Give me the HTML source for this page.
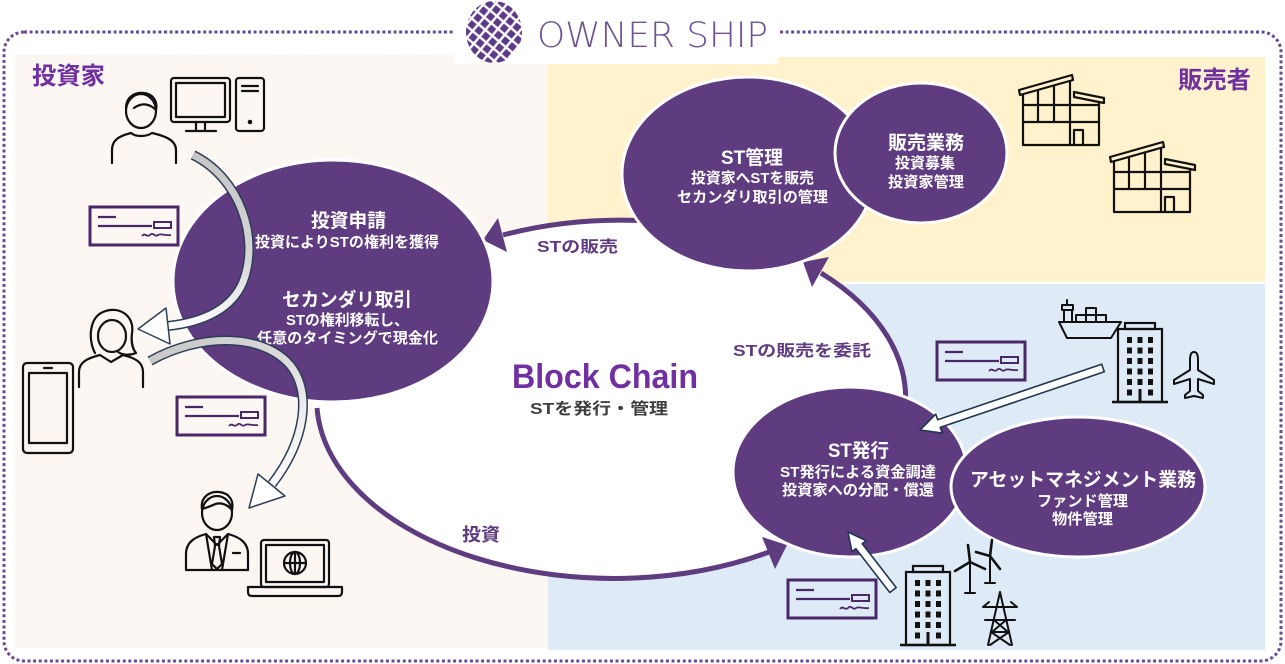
<!DOCTYPE html>
<html><head><meta charset="utf-8">
<style>
html,body{margin:0;padding:0;background:#fff;}
svg{display:block;}
text{font-family:"Liberation Sans","Noto Sans CJK JP",sans-serif;}
</style></head><body>
<svg width="1285" height="664" viewBox="0 0 1285 664" xmlns="http://www.w3.org/2000/svg">
<defs>
  <linearGradient id="ga1" x1="0" y1="155" x2="0" y2="330" gradientUnits="userSpaceOnUse">
    <stop offset="0" stop-color="#c6c6c6"/><stop offset="0.6" stop-color="#d6d6d6"/><stop offset="1" stop-color="#ffffff"/>
  </linearGradient>
  <linearGradient id="ga2" x1="150" y1="340" x2="290" y2="490" gradientUnits="userSpaceOnUse">
    <stop offset="0" stop-color="#c6c6c6"/><stop offset="0.5" stop-color="#dadada"/><stop offset="1" stop-color="#ffffff"/>
  </linearGradient>
  <clipPath id="gc"><ellipse cx="494" cy="32" rx="28" ry="31"/></clipPath>
  <pattern id="gp" width="9" height="9" patternUnits="userSpaceOnUse" patternTransform="rotate(40 494 32)">
    <rect width="9" height="9" fill="#ffffff"/><rect x="1.2" y="1.2" width="6.6" height="6.6" fill="#5b3a88"/>
  </pattern>
  <g id="chk" fill="none" stroke="#4a2868">
    <rect x="0" y="0" width="88" height="38" stroke-width="3"/>
    <line x1="8" y1="10" x2="26" y2="10" stroke-width="2.2"/>
    <line x1="8" y1="19" x2="62" y2="19" stroke-width="2.2"/>
    <rect x="64" y="15" width="17" height="6" stroke-width="2"/>
    <path d="M52,29 C55,25 57,31 60,28 C63,24 65,31 68,28 C71,26 74,29 81,28" stroke-width="1.8"/>
  </g>
  <g id="fac" fill="none" stroke="#111" stroke-width="2.2" stroke-linejoin="round">
    <path d="M0,15 L53,0 L54,5 L1,20 Z"/>
    <path d="M55,17 L85,23 L85,28 L55,22 Z"/>
    <path d="M4,19 V70 H80 V27"/>
    <line x1="19" y1="15" x2="19" y2="47"/>
    <line x1="35" y1="11" x2="35" y2="47"/>
    <line x1="51" y1="6" x2="51" y2="70"/>
    <line x1="4" y1="30" x2="80" y2="30"/>
    <line x1="4" y1="47" x2="80" y2="47"/>
    <path d="M55,70 V55 H64 V70"/>
  </g>
  <g id="twr">
    <rect x="13" y="0" width="30" height="6" fill="none" stroke="#111" stroke-width="2.2"/>
    <rect x="6" y="6" width="44" height="73" fill="none" stroke="#111" stroke-width="2.2"/>
    <line x1="0" y1="79" x2="56" y2="79" stroke="#111" stroke-width="2.5"/>
    <g fill="#111">
      <rect x="15" y="14" width="5" height="6"/><rect x="25.5" y="14" width="5" height="6"/><rect x="36" y="14" width="5" height="6"/>
      <rect x="15" y="24.5" width="5" height="6"/><rect x="25.5" y="24.5" width="5" height="6"/><rect x="36" y="24.5" width="5" height="6"/>
      <rect x="15" y="35" width="5" height="6"/><rect x="25.5" y="35" width="5" height="6"/><rect x="36" y="35" width="5" height="6"/>
      <rect x="15" y="45.5" width="5" height="6"/><rect x="25.5" y="45.5" width="5" height="6"/><rect x="36" y="45.5" width="5" height="6"/>
      <rect x="15" y="56" width="5" height="6"/><rect x="25.5" y="56" width="5" height="6"/><rect x="36" y="56" width="5" height="6"/>
      <rect x="15" y="66.5" width="5" height="6"/><rect x="26.5" y="66" width="3" height="13"/><rect x="36" y="66.5" width="5" height="6"/>
    </g>
  </g>
</defs>

<!-- backgrounds -->
<rect width="1285" height="664" fill="#ffffff"/>
<rect x="15" y="55" width="534" height="593" fill="#fcf7f3"/>
<rect x="548" y="57" width="717" height="225" fill="#fff2cc"/>
<rect x="548" y="284" width="717" height="366" fill="#deebf7"/>
<rect x="4" y="32" width="1277" height="629" rx="20" fill="none" stroke="#6a4a95" stroke-width="3" stroke-dasharray="3 2.6"/>
<rect x="455" y="0" width="323" height="64" fill="#ffffff"/>

<!-- logo -->
<g clip-path="url(#gc)"><rect x="460" y="0" width="70" height="66" fill="url(#gp)"/></g>
<text x="537" y="47" font-size="35" font-weight="200" fill="#6e5392" style="font-family:'DejaVu Sans','Liberation Sans',sans-serif" textLength="231" lengthAdjust="spacingAndGlyphs">OWNER SHIP</text>

<!-- region labels -->
<text x="32" y="84" font-size="24" font-weight="bold" fill="#7030a0" textLength="73" lengthAdjust="spacingAndGlyphs">投資家</text>
<text x="1178" y="88" font-size="24" font-weight="bold" fill="#7030a0" textLength="73" lengthAdjust="spacingAndGlyphs">販売者</text>

<!-- white block chain ellipse -->
<ellipse cx="610" cy="399" rx="297" ry="179" fill="#ffffff"/>

<!-- purple arcs -->
<g fill="none" stroke="#5f3b7f" stroke-width="5">
  <path d="M650,221 A297,179 0 0,0 503,235"/>
  <path d="M905,410 A297,179 0 0,0 821,273"/>
  <path d="M317,408 A297,179 0 0,0 769,552"/>
</g>
<g fill="#5f3b7f">
  <polygon points="483,240 498,218 507,252"/>
  <polygon points="803,262 829,257 812,287"/>
  <polygon points="787,545 762,537 775,569"/>
</g>

<!-- purple ellipses -->
<g fill="#5f3b7f" stroke="#ffffff" stroke-width="3">
  <ellipse cx="333" cy="281" rx="160" ry="121"/>
  <ellipse cx="748" cy="174" rx="126" ry="97"/>
  <ellipse cx="921" cy="153" rx="86" ry="70"/>
  <ellipse cx="850" cy="472" rx="117" ry="85"/>
  <ellipse cx="1078" cy="487" rx="127" ry="70"/>
</g>

<!-- ellipse texts -->
<g fill="#ffffff" font-weight="bold">
  <text x="311" y="227" font-size="19" textLength="75" lengthAdjust="spacingAndGlyphs">投資申請</text>
  <text x="255" y="247" font-size="15" textLength="184" lengthAdjust="spacingAndGlyphs">投資によりSTの権利を獲得</text>
  <text x="282" y="306" font-size="19" textLength="130" lengthAdjust="spacingAndGlyphs">セカンダリ取引</text>
  <text x="286" y="325" font-size="15" textLength="123" lengthAdjust="spacingAndGlyphs">STの権利移転し、</text>
  <text x="257" y="343" font-size="15" textLength="181" lengthAdjust="spacingAndGlyphs">任意のタイミングで現金化</text>

  <text x="721" y="164" font-size="19" textLength="62" lengthAdjust="spacingAndGlyphs">ST管理</text>
  <text x="691" y="183" font-size="15" textLength="123" lengthAdjust="spacingAndGlyphs">投資家へSTを販売</text>
  <text x="677" y="202" font-size="15" textLength="151" lengthAdjust="spacingAndGlyphs">セカンダリ取引の管理</text>

  <text x="888" y="149" font-size="19" textLength="76" lengthAdjust="spacingAndGlyphs">販売業務</text>
  <text x="895" y="168" font-size="15" textLength="60" lengthAdjust="spacingAndGlyphs">投資募集</text>
  <text x="888" y="187" font-size="15" textLength="76" lengthAdjust="spacingAndGlyphs">投資家管理</text>

  <text x="828" y="457" font-size="19" textLength="61" lengthAdjust="spacingAndGlyphs">ST発行</text>
  <text x="780" y="477" font-size="15" textLength="156" lengthAdjust="spacingAndGlyphs">ST発行による資金調達</text>
  <text x="782" y="495" font-size="15" textLength="152" lengthAdjust="spacingAndGlyphs">投資家への分配・償還</text>

  <text x="970" y="486" font-size="19" textLength="226" lengthAdjust="spacingAndGlyphs">アセットマネジメント業務</text>
  <text x="1037" y="506" font-size="15" textLength="91" lengthAdjust="spacingAndGlyphs">ファンド管理</text>
  <text x="1052" y="524" font-size="15" textLength="61" lengthAdjust="spacingAndGlyphs">物件管理</text>
</g>

<!-- center & connector labels -->
<text x="512" y="388" font-size="34" font-weight="bold" fill="#7030a0" textLength="186" lengthAdjust="spacingAndGlyphs">Block Chain</text>
<text x="530" y="414" font-size="16" font-weight="bold" fill="#3f3f3f" textLength="138" lengthAdjust="spacingAndGlyphs">STを発行・管理</text>
<g fill="#5f3b7f" font-weight="bold">
  <text x="537" y="252" font-size="16" textLength="81" lengthAdjust="spacingAndGlyphs">STの販売</text>
  <text x="733" y="356" font-size="16" textLength="138" lengthAdjust="spacingAndGlyphs">STの販売を委託</text>
  <text x="462" y="541" font-size="18" textLength="38" lengthAdjust="spacingAndGlyphs">投資</text>
</g>

<!-- investor icons -->
<g fill="none" stroke="#111" stroke-width="2.2" stroke-linejoin="round" stroke-linecap="round">
  <!-- man casual -->
  <ellipse cx="141" cy="111" rx="15" ry="17"/>
  <path d="M126,108 C126,96 136,92 144,93 C152,94 158,100 156,110 C150,104 142,102 134,108"/>
  <path d="M112,163 V150 C112,140 119,136 131,133 C136,137 146,137 152,133 C165,136 176,140 176,150 V163"/>
  <!-- monitor -->
  <rect x="171" y="78" width="59" height="44" rx="3"/>
  <rect x="176" y="83" width="49" height="34"/>
  <path d="M196,122 V131 M205,122 V131 M186,131 H216"/>
  <!-- tower -->
  <rect x="236" y="78" width="28" height="53" rx="3"/>
  <path d="M242,86 H258 M242,91 H258"/>
  <circle cx="250" cy="122" r="1.2" fill="#111"/>
  <!-- woman -->
  <path d="M95,353 C88,340 89,318 103,312 C119,305 135,316 132,333 C131,342 132,348 136,353 C129,356 121,355 117,351"/>
  <ellipse cx="112" cy="336" rx="14" ry="16"/>
  <path d="M79,387 V372 C79,362 88,358 100,355 L111,362 L123,355 C135,358 143,362 143,372 V387"/>
  <!-- phone -->
  <rect x="23" y="363" width="50" height="90" rx="4"/>
  <rect x="29" y="373" width="38" height="70"/>
  <path d="M44,368 H52"/>
  <!-- businessman -->
  <ellipse cx="217" cy="513" rx="15" ry="17"/>
  <path d="M202,509 C200,497 210,491 219,492 C229,493 234,500 232,510 C226,503 219,502 213,505 C209,507 205,508 202,509"/>
  <path d="M186,570 V554 C186,542 195,537 206,534 L217,545 L228,534 C239,537 248,542 248,554 V570 Z"/>
  <path d="M206,534 L212,570 M228,534 L222,570"/>
  <path d="M214,537 H220 L219,546 L222,564 L217,569 L212,564 L215,546 Z"/>
  <path d="M233,553 H240"/>
  <!-- laptop -->
  <rect x="261" y="540" width="68" height="47" rx="3"/>
  <rect x="266" y="545" width="58" height="37"/>
  <circle cx="295" cy="563" r="11"/>
  <ellipse cx="295" cy="563" rx="5" ry="11"/>
  <path d="M284,563 H306 M295,552 V574"/>
  <path d="M248,587 H342 V592 Q342,596 338,596 H252 Q248,596 248,592 Z"/>
</g>

<!-- checks -->
<use href="#chk" x="90" y="207"/>
<use href="#chk" x="177" y="397"/>
<use href="#chk" x="937" y="342"/>
<use href="#chk" x="788" y="580"/>

<!-- seller buildings -->
<use href="#fac" x="1019" y="75"/>
<use href="#fac" x="1110" y="142"/>

<!-- asset icons -->
<use href="#twr" x="1112" y="323"/>
<use href="#twr" x="900" y="566"/>
<g fill="none" stroke="#111" stroke-width="2" stroke-linejoin="round" stroke-linecap="round">
  <!-- ship -->
  <path d="M1059,322 H1121 L1111,338 H1067 Z"/>
  <path d="M1064,322 V310 H1072 V322"/>
  <rect x="1062" y="305" width="11" height="5"/>
  <path d="M1067,305 V300"/>
  <rect x="1076" y="315" width="10" height="7"/>
  <rect x="1086" y="315" width="10" height="7"/>
  <rect x="1096" y="315" width="10" height="7"/>
  <rect x="1086" y="308" width="10" height="7"/>
  <!-- airplane -->
  <path d="M1194,352 C1197,352 1198,356 1198,360 V370 L1214,380 V384 L1198,379 V391 L1203,395 V398 L1194,396 L1185,398 V395 L1190,391 V379 L1174,384 V380 L1190,370 V360 C1190,356 1191,352 1194,352 Z"/>
  <!-- turbines -->
  <path d="M970,562 V593 M965,593 H975"/>
  <path d="M970,562 L968,545 M970,562 L955,571 M970,562 L985,569" stroke-width="2.6"/>
  <path d="M990,556 V583 M985,583 H995"/>
  <path d="M990,556 L992,540 M990,556 L976,552 M990,556 L1000,569" stroke-width="2.6"/>
  <!-- pylon -->
  <path d="M1000,592 L988,645 M1000,592 L1012,645"/>
  <path d="M983,607 H1017 M985,620 H1015 M983,607 L989,602 M1017,607 L1011,602"/>
  <path d="M994,620 L1008,632 M1006,620 L992,632 M991,632 L1010,645 M1009,632 L990,645 M992,632 H1008"/>
</g>

<!-- gray curved arrows -->
<g fill="none" stroke-linecap="butt">
  <path d="M193,155 C240,178 260,238 243,282 C232,308 205,322 168,326" stroke="#2d3e57" stroke-width="10"/>
  <path d="M193,155 C240,178 260,238 243,282 C232,308 205,322 168,326" stroke="url(#ga1)" stroke-width="7"/>
  <path d="M150,361 C200,333 262,333 290,365 C312,392 306,440 272,484" stroke="#2d3e57" stroke-width="10"/>
  <path d="M150,361 C200,333 262,333 290,365 C312,392 306,440 272,484" stroke="url(#ga2)" stroke-width="7"/>
</g>
<polygon points="138,329 166,308 170,344" fill="#ffffff" stroke="#2d3e57" stroke-width="1.5" stroke-linejoin="round"/>
<polygon points="249,508 258,474 285,496" fill="#ffffff" stroke="#2d3e57" stroke-width="1.5" stroke-linejoin="round"/>

<!-- white straight arrows -->
<polygon points="1104.3,371.8 940.2,427.4 942.2,433.1 920,430 935.8,414.1 937.7,419.8 1101.7,364.2" fill="#ffffff" stroke="#1f3550" stroke-width="1.6" stroke-linejoin="round"/>
<polygon points="896.2,587.6 862.2,543.8 866.1,540.7 848,532 851.9,551.7 855.9,548.7 889.8,592.5" fill="#ffffff" stroke="#1f3550" stroke-width="1.6" stroke-linejoin="round"/>
</svg>
</body></html>
